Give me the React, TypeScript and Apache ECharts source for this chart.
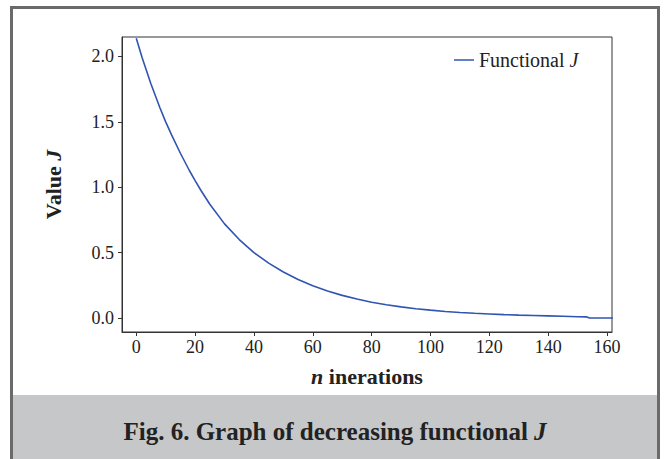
import React, { useEffect, useRef } from "react";
import * as echarts from "echarts";

const iterations = [0, 2, 5, 8, 10, 12, 15, 18, 20, 22, 25, 30, 35, 40, 45, 50, 55, 60, 65, 70, 75, 80, 85, 90, 95, 100, 105, 110, 115, 120, 125, 130, 135, 140, 145, 150, 153, 154, 158, 162];
const functionalJ = [2.14, 1.99, 1.79, 1.61, 1.5, 1.4, 1.26, 1.13, 1.05, 0.975, 0.87, 0.72, 0.6, 0.5, 0.42, 0.352, 0.295, 0.247, 0.207, 0.173, 0.145, 0.121, 0.101, 0.085, 0.071, 0.06, 0.05, 0.042, 0.036, 0.031, 0.026, 0.022, 0.019, 0.016, 0.013, 0.01, 0.009, 0.0, 0.0, 0.0];
const xTicks = [0, 20, 40, 60, 80, 100, 120, 140, 160];
const yTicks = [0, 0.5, 1.0, 1.5, 2.0];

const FONT = "'Liberation Serif', serif";

export default function App() {
  const ref = useRef<HTMLDivElement>(null);
  useEffect(() => {
    const chart = echarts.init(ref.current!, null, { renderer: "svg" });
    const data = iterations.map((x, i) => [x, functionalJ[i]]);
    chart.setOption({
      animation: false,
      backgroundColor: "#ffffff",
      textStyle: { fontFamily: FONT },
      grid: { left: 122, top: 37, width: 490, height: 295, show: true, borderColor: "#333", borderWidth: 1, backgroundColor: "transparent" },
      legend: {
        left: 454,
        top: 50,
        padding: 0,
        itemWidth: 20,
        itemHeight: 10,
        itemGap: 10,
        textStyle: {
          fontFamily: FONT,
          fontSize: 20,
          color: "#222",
          rich: {
            a: { fontFamily: FONT, fontSize: 20, color: "#222" },
            i: { fontFamily: FONT, fontSize: 20, color: "#222", fontStyle: "italic" },
          },
        },
        formatter: () => "{a|Functional }{i|J}",
        data: [{ name: "Functional J", icon: "path://M0,0L20,0L20,1.5L0,1.5Z" }],
      },
      xAxis: {
        type: "value",
        min: -4.85,
        max: 161.7,
        splitLine: { show: false },
        axisLine: { show: true, onZero: false, lineStyle: { color: "#333", width: 1 } },
        axisTick: { show: true, length: 4, lineStyle: { color: "#333" }, customValues: xTicks },
        axisLabel: { customValues: xTicks, fontFamily: FONT, fontSize: 18, color: "#222", margin: 6 },
        name: "{i|n} inerations",
        nameLocation: "middle",
        nameGap: 33,
        nameTextStyle: {
          fontFamily: FONT,
          fontSize: 22,
          fontWeight: "bold",
          color: "#222",
          rich: {
            i: { fontFamily: FONT, fontSize: 22, fontWeight: "bold", fontStyle: "italic", color: "#222" },
          },
        },
      },
      yAxis: {
        type: "value",
        min: -0.107,
        max: 2.149,
        splitLine: { show: false },
        axisLine: { show: true, onZero: false, lineStyle: { color: "#333", width: 1 } },
        axisTick: { show: true, length: 4, lineStyle: { color: "#333" }, customValues: yTicks },
        axisLabel: {
          customValues: yTicks,
          fontFamily: FONT,
          fontSize: 18,
          color: "#222",
          margin: 8,
          formatter: (v: number) => v.toFixed(1),
        },
        name: "Value {i|J}",
        nameLocation: "middle",
        nameGap: 58,
        nameTextStyle: {
          fontFamily: FONT,
          fontSize: 22,
          fontWeight: "bold",
          color: "#222",
          rich: {
            i: { fontFamily: FONT, fontSize: 22, fontWeight: "bold", fontStyle: "italic", color: "#222" },
          },
        },
      },
      series: [
        {
          name: "Functional J",
          type: "line",
          data,
          symbol: "none",
          smooth: false,
          lineStyle: { color: "#3054b2", width: 1.6 },
          itemStyle: { color: "#3054b2" },
          clip: true,
        },
      ],
      graphic: [
        {
          type: "rect",
          shape: { x: 11.5, y: 7.5, width: 647, height: 470 },
          style: { fill: "none", stroke: "#6a6a6a", lineWidth: 3 },
          z: 10,
        },
        {
          type: "rect",
          shape: { x: 13, y: 395, width: 644, height: 70 },
          style: { fill: "#c6c7c9" },
          z: 9,
        },
        {
          type: "text",
          x: 335,
          y: 431,
          style: {
            text: "Fig. 6. Graph of decreasing functional {i|J}",
            fontFamily: FONT,
            fontSize: 25,
            fontWeight: "bold",
            fill: "#222",
            align: "center",
            verticalAlign: "middle",
            rich: {
              i: { fontFamily: FONT, fontSize: 25, fontWeight: "bold", fontStyle: "italic", fill: "#222" },
            },
          },
          z: 11,
        },
      ],
    });
    return () => chart.dispose();
  }, []);
  return (
    <div
      ref={ref}
      style={{ position: "fixed", left: 0, top: 0, width: 667, height: 459 }}
    />
  );
}
